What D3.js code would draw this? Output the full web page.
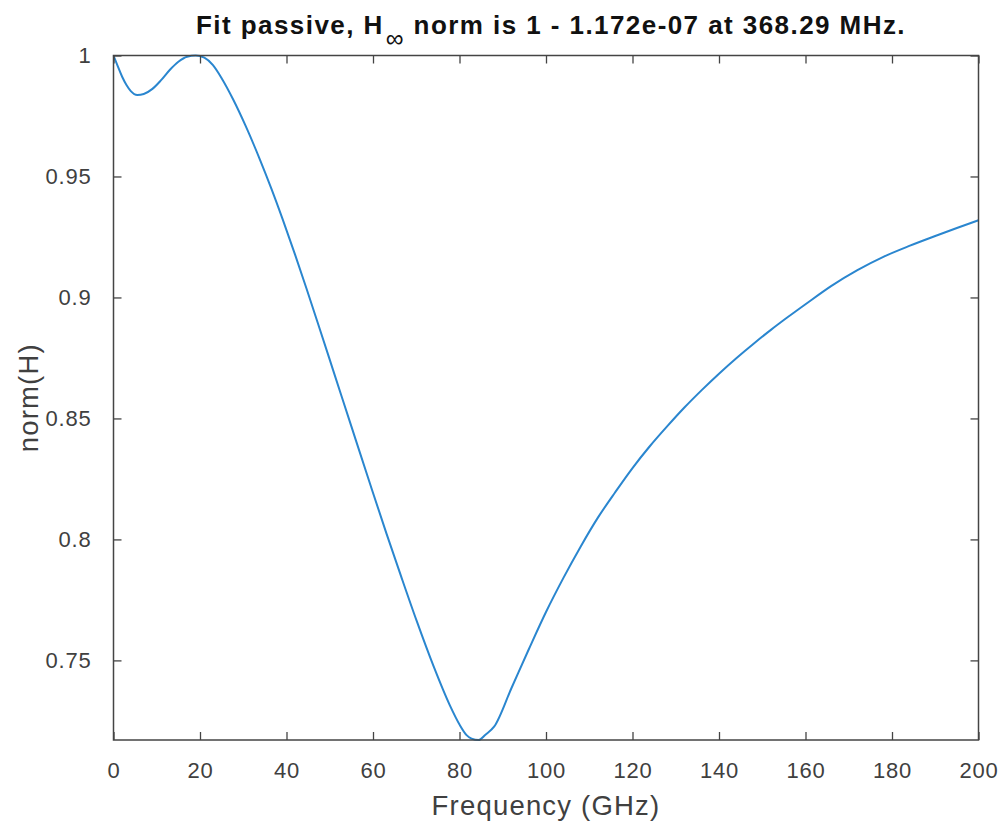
<!DOCTYPE html>
<html>
<head>
<meta charset="utf-8">
<script src="https://cdn.jsdelivr.net/npm/d3@7"></script>
<style>
  html, body { margin: 0; padding: 0; background: #fff; }
  svg { display: block; font-family: "Liberation Sans", Arial, Helvetica, sans-serif; }
</style>
</head>
<body>
<svg id="chart" width="1005" height="827"></svg>
<script>
// ---- Data ----
const freqGHz = [0, 1, 2, 3, 4, 5.5, 7, 9, 11, 13, 15, 17, 19, 21, 23, 25, 27.7, 30.5, 33.9, 36.5, 39.1, 42, 44.6, 47.5, 50.7, 55, 59.35, 63.1, 66.5, 70.1, 74, 77.8, 80, 81.7, 82.8, 84.4, 86, 88, 92, 96, 100, 104, 108, 112, 116, 120, 124, 128, 132, 136, 140, 144, 148, 152, 156, 160, 166, 172, 178, 184, 190, 195, 200];
const normH   = [1.0, 0.9955, 0.9912, 0.9878, 0.9853, 0.9837, 0.9841, 0.9862, 0.9898, 0.9940, 0.9974, 0.9995, 1.0, 0.9991, 0.9960, 0.9906, 0.9817, 0.9711, 0.9568, 0.9450, 0.9324, 0.9176, 0.9038, 0.8880, 0.8704, 0.8467, 0.8228, 0.8025, 0.7847, 0.7663, 0.7476, 0.7313, 0.7235, 0.7190, 0.7177, 0.7171, 0.7193, 0.7226, 0.7385, 0.7545, 0.7700, 0.7840, 0.7970, 0.8090, 0.8195, 0.8295, 0.8385, 0.8467, 0.8545, 0.8617, 0.8685, 0.8749, 0.8809, 0.8866, 0.8920, 0.8972, 0.9048, 0.9113, 0.9168, 0.9213, 0.9254, 0.9287, 0.9319];
const xTicks = [0, 20, 40, 60, 80, 100, 120, 140, 160, 180, 200];
const yTicks = [0.75, 0.8, 0.85, 0.9, 0.95, 1];
const xDomain = [0, 200];
const yDomain = [0.7171, 1];
const titleMain = "Fit passive, H";
const titleSub = "\u221E";
const titleRest = " norm is 1 - 1.172e-07 at 368.29 MHz.";
const xLabel = "Frequency (GHz)";
const yLabel = "norm(H)";

// ---- Layout ----
const L = 113.5, R = 978.5, T = 55.5, B = 740;
const axisColor = "#444";
const textColor = "#404040";
const lineColor = "#2a86cf";

const svg = d3.select("#chart");
const x = d3.scaleLinear().domain(xDomain).range([L, R]);
const y = d3.scaleLinear().domain(yDomain).range([B, T]);

const fmt = d => String(+d.toFixed(2));

// data line (clipped to axes)
svg.append("clipPath").attr("id", "clip")
  .append("rect").attr("x", L - 1).attr("y", T - 2).attr("width", R - L + 2).attr("height", B - T + 3);

const pts = freqGHz.map((f, i) => [f, normH[i]]);
svg.append("path")
  .datum(pts)
  .attr("clip-path", "url(#clip)")
  .attr("fill", "none")
  .attr("stroke", lineColor)
  .attr("stroke-width", 2)
  .attr("stroke-linejoin", "round")
  .attr("d", d3.line().x(d => x(d[0])).y(d => y(d[1])).curve(d3.curveMonotoneX));

// axes
const tickLen = 8;
const gx = svg.append("g").attr("transform", `translate(0,${B})`)
  .call(d3.axisBottom(x).tickValues(xTicks).tickFormat(d3.format("d")).tickSizeInner(-tickLen).tickSizeOuter(0).tickPadding(22));
const gxTop = svg.append("g").attr("transform", `translate(0,${T})`)
  .call(d3.axisTop(x).tickValues(xTicks).tickFormat("").tickSizeInner(-tickLen).tickSizeOuter(0));
const gy = svg.append("g").attr("transform", `translate(${L},0)`)
  .call(d3.axisLeft(y).tickValues(yTicks).tickFormat(fmt).tickSizeInner(-tickLen).tickSizeOuter(0).tickPadding(22));
const gyR = svg.append("g").attr("transform", `translate(${R},0)`)
  .call(d3.axisRight(y).tickValues(yTicks).tickFormat("").tickSizeInner(-tickLen).tickSizeOuter(0));

[gx, gxTop, gy, gyR].forEach(g => {
  g.select(".domain").remove();
  g.selectAll(".tick line").attr("stroke", axisColor).attr("stroke-width", 1.3);
  g.selectAll(".tick text").attr("fill", textColor).style("font-size", "22px")
    .style("font-family", '"Liberation Sans", Arial, sans-serif').style("letter-spacing", "0.8px");
});

// box
svg.append("rect").attr("x", L).attr("y", T).attr("width", R - L).attr("height", B - T)
  .attr("fill", "none").attr("stroke", axisColor).attr("stroke-width", 1.5);

// axis labels
svg.append("text").attr("x", (L + R) / 2).attr("y", 815)
  .attr("text-anchor", "middle").attr("fill", textColor)
  .style("font-size", "27.5px").style("letter-spacing", "1.2px").text(xLabel);

svg.append("text").attr("transform", `translate(38,${(T + B) / 2}) rotate(-90)`)
  .attr("text-anchor", "middle").attr("fill", textColor)
  .style("font-size", "27.5px").style("letter-spacing", "1.2px").text(yLabel);

// title
const title = svg.append("text").attr("x", 551).attr("y", 34)
  .attr("text-anchor", "middle").attr("fill", "#111")
  .style("font-size", "26px").style("font-weight", "bold");
title.append("tspan").text(titleMain);
title.append("tspan").attr("dx", 2).attr("dy", 13).style("font-size", "25px").style("font-weight", "normal").text(titleSub);
title.append("tspan").attr("dy", -13).text(titleRest);
// fit title to the reference's width (~708 px)
const targetW = 708;
const w0 = title.node().getComputedTextLength();
const nChars = (titleMain + titleSub + titleRest).length;
const ls = Math.max(0, (targetW - w0) / nChars);
title.style("letter-spacing", ls + "px");
</script>
</body>
</html>
